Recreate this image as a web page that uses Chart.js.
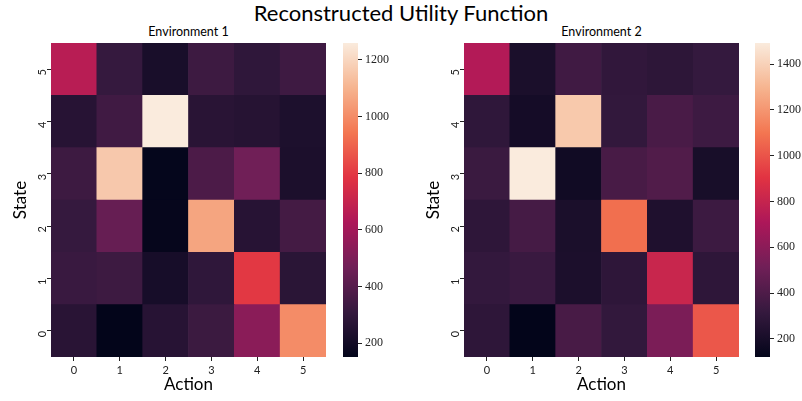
<!DOCTYPE html>
<html>
<head>
<meta charset="utf-8">
<script src="https://cdn.jsdelivr.net/npm/chart.js@4.4.1/dist/chart.umd.min.js"></script>
<style>
  body { margin: 0; background: #fff; width: 802px; height: 401px; overflow: hidden; position: relative; font-family: Lato, sans-serif; color: #000; }
  .box { position: absolute; top: 0; height: 401px; }
  #title { position: absolute; top: 0; left: 0; width: 802px; text-align: center; font-size: 22px; line-height: 26px; }
  .sub { position: absolute; top: 24px; font-size: 12.5px; line-height: 16px; text-align: center; width: 275px; }
</style>
</head>
<body>
<div id="title">Reconstructed Utility Function</div>
<div class="sub" style="left:51px">Environment 1</div>
<div class="sub" style="left:464px">Environment 2</div>
<div class="box" style="left:0;width:326px"><canvas id="heat1"></canvas></div>
<div class="box" style="left:335px;width:68px"><canvas id="bar1"></canvas></div>
<div class="box" style="left:413px;width:326px"><canvas id="heat2"></canvas></div>
<div class="box" style="left:747px;width:68px"><canvas id="bar2"></canvas></div>
<script>
// heatmap data, rows listed from state 0 (bottom) to state 5 (top)
var actions = ['0', '1', '2', '3', '4', '5'];
var states = ['0', '1', '2', '3', '4', '5'];

var env1 = [
    [270, 151, 265, 325, 535, 1000],
    [320, 330, 215, 290, 795, 275],
    [310, 440, 160, 1063, 265, 350],
    [330, 1160, 158, 372, 468, 230],
    [265, 340, 1260, 270, 262, 235],
    [660, 310, 220, 330, 290, 335]
];
var env2 = [
    [290, 121, 380, 305, 550, 1010],
    [310, 330, 220, 290, 810, 290],
    [290, 370, 215, 1080, 230, 340],
    [335, 1492, 175, 380, 410, 205],
    [295, 190, 1370, 305, 385, 345],
    [730, 215, 355, 300, 285, 315]
];
var env1Range = [151, 1260];
var env2Range = [121, 1492];
var env1Ticks = [200, 400, 600, 800, 1000, 1200];
var env2Ticks = [200, 400, 600, 800, 1000, 1200, 1400];

// seaborn "rocket" colormap, sampled
var rocketStops = [
    [0.000, [3, 5, 26]],
    [0.143, [53, 25, 62]],
    [0.286, [112, 31, 87]],
    [0.429, [173, 23, 89]],
    [0.571, [225, 51, 66]],
    [0.714, [243, 118, 81]],
    [0.857, [246, 180, 143]],
    [1.000, [250, 235, 221]]
];

function rocket(t) {
    t = Math.max(0, Math.min(1, t));
    for (var i = 1; i < rocketStops.length; i++) {
        var a = rocketStops[i - 1], b = rocketStops[i];
        if (t <= b[0]) {
            var f = (t - a[0]) / (b[0] - a[0]);
            var c = a[1].map(function (v, k) { return Math.round(v + (b[1][k] - v) * f); });
            return 'rgb(' + c.join(',') + ')';
        }
    }
    return 'rgb(250,235,221)';
}

Chart.defaults.animation = false;
Chart.defaults.plugins.legend.display = false;
Chart.defaults.plugins.tooltip.enabled = false;
Chart.defaults.color = '#222';

function heatmap(canvasId, values, range) {
    var datasets = states.map(function (s, si) {
        return {
            label: 'State ' + s,
            data: actions.map(function () { return [si, si + 1]; }),
            backgroundColor: values[si].map(function (v) { return rocket((v - range[0]) / (range[1] - range[0])); }),
            grouped: false,
            barPercentage: 1,
            categoryPercentage: 1,
            borderWidth: 0
        };
    });
    return new Chart(document.getElementById(canvasId), {
        type: 'bar',
        data: { labels: actions, datasets: datasets },
        options: {
            responsive: true,
            maintainAspectRatio: false,
            layout: { padding: { top: 43, right: 0 } },
            scales: {
                x: {
                    grid: { drawOnChartArea: false, offset: false, tickLength: 4, color: '#222' },
                    border: { display: false },
                    ticks: { font: { family: 'Lato', size: 11 }, padding: 3 },
                    title: { display: true, text: 'Action', font: { family: 'Lato', size: 17 }, padding: { top: 0, bottom: 6 }, color: '#000' },
                    afterFit: function (s) { s.height = 44; }
                },
                y: {
                    min: 0, max: 6,
                    grid: { drawOnChartArea: false, tickLength: 4, color: '#222' },
                    border: { display: false },
                    afterBuildTicks: function (s) {
                        s.ticks = states.map(function (st, i) { return { value: i + 0.5 }; });
                    },
                    ticks: {
                        minRotation: 90, maxRotation: 90, padding: 5,
                        font: { family: 'Lato', size: 11 },
                        callback: function (v) { return states[Math.floor(v)]; }
                    },
                    title: { display: true, text: 'State', font: { family: 'Lato', size: 17 }, padding: { top: 10, bottom: 0 }, color: '#000' },
                    afterFit: function (s) { s.width = 51; }
                }
            }
        }
    });
}

function colorbar(canvasId, range, ticks) {
    return new Chart(document.getElementById(canvasId), {
        type: 'bar',
        data: {
            labels: [''],
            datasets: [{
                data: [range],
                backgroundColor: function (ctx) {
                    var area = ctx.chart.chartArea;
                    if (!area) return '#000';
                    var g = ctx.chart.ctx.createLinearGradient(0, area.bottom, 0, area.top);
                    rocketStops.forEach(function (st) { g.addColorStop(st[0], 'rgb(' + st[1].join(',') + ')'); });
                    return g;
                },
                barPercentage: 1,
                categoryPercentage: 1,
                borderWidth: 0,
                inflateAmount: 0
            }]
        },
        options: {
            responsive: true,
            maintainAspectRatio: false,
            layout: { padding: { top: 43, bottom: 44, left: 8 } },
            scales: {
                x: { display: false },
                y: {
                    position: 'right',
                    min: range[0], max: range[1],
                    grid: { drawOnChartArea: false, tickLength: 4, color: '#222' },
                    border: { display: false },
                    afterBuildTicks: function (s) {
                        s.ticks = ticks.map(function (v) { return { value: v }; });
                    },
                    ticks: {
                        font: { family: 'Liberation Serif', size: 12 }, padding: 3,
                        callback: function (v) { return String(v); }
                    },
                    afterFit: function (s) { s.width = 45; }
                }
            }
        }
    });
}

heatmap('heat1', env1, env1Range);
colorbar('bar1', env1Range, env1Ticks);
heatmap('heat2', env2, env2Range);
colorbar('bar2', env2Range, env2Ticks);
</script>
</body>
</html>
